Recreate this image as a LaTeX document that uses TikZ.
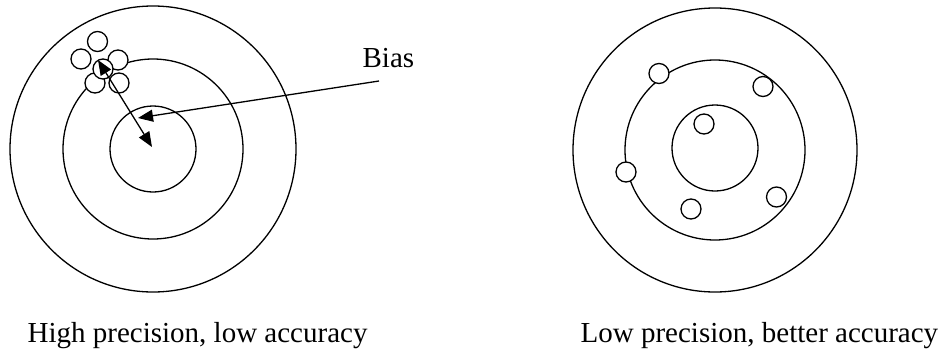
\documentclass[tikz,border=0pt]{standalone}
\usepackage{fontspec}
\setmainfont{Liberation Serif}
\usetikzlibrary{arrows.meta}

\begin{document}
\begin{tikzpicture}[x=1pt, y=-1pt, line width=1.3pt,
    ring/.style={circle, draw, inner sep=0pt},
    shot/.style={circle, draw, fill=white, inner sep=0pt, minimum size=20pt},
    lbl/.style={font=\fontsize{29}{34}\selectfont, inner sep=0pt, anchor=base west},
    ar/.style={-{Triangle[length=15pt,width=12pt]}},
    dar/.style={{Triangle[length=15pt,width=12pt]}-{Triangle[length=15pt,width=12pt]}}]
    \useasboundingbox (0,0) rectangle (939,351);
    % left target
    \node [ring, minimum size=286pt] (lout) at (153,149) {};
    \node [ring, minimum size=180pt] (lmid) at (153,149) {};
    \node [ring, minimum size=86pt] (lin) at (153,149) {};
    \node [shot] (la) at (97.5,41.5) {};
    \node [shot] (lb) at (81,59) {};
    \node [shot] (lc) at (118,60) {};
    \node [shot] (ld) at (95,83) {};
    \node [shot] (le) at (119,83) {};
    \node [shot] (lf) at (103,69) {};
    % right target
    \node [ring, minimum size=284pt] (rout) at (715,150) {};
    \node [ring, minimum size=180pt] (rmid) at (715,150) {};
    \node [ring, minimum size=86pt] (rin) at (715,148) {};
    \node [shot] (ra) at (659,73.5) {};
    \node [shot] (rb) at (763,86.5) {};
    \node [shot] (rc) at (704,124) {};
    \node [shot] (rd) at (626,172) {};
    \node [shot] (re) at (691,209) {};
    \node [shot] (rf) at (776.5,197) {};
    % bias
    \coordinate (mean) at (98,60);
    \coordinate (bull) at (152,147);
    \coordinate (tip) at (138,118);
    \node [lbl] (bias) at (362,67) {Bias};
    \coordinate (tail) at (379,81);
    \draw [dar] (mean) -- (bull);
    \draw [ar] (tail) -- (tip);
    % captions
    \node [lbl] (capl) at (27,342) {High precision, low accuracy};
    \node [lbl] (capr) at (580,342) {Low precision, better accuracy};
\end{tikzpicture}
\end{document}
